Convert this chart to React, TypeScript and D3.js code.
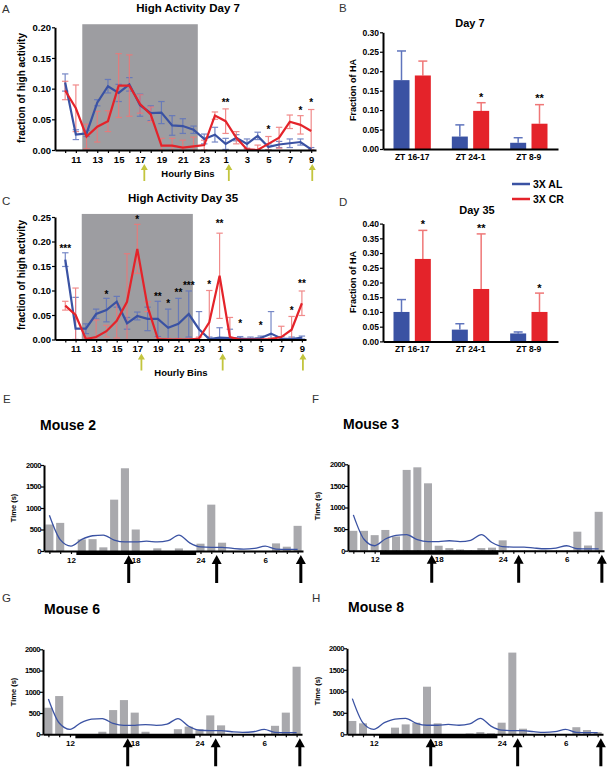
import React, { useRef, useEffect } from 'react'
import * as d3 from 'd3'

// hourly bins (ZT), first bin 10, wraps after 24
const hourBins = [10, 11, 12, 13, 14, 15, 16, 17, 18, 19, 20, 21, 22, 23, 24, 1, 2, 3, 4, 5, 6, 7, 8, 9]
const hourTickLabels = [11, 13, 15, 17, 19, 21, 23, 1, 3, 5, 7, 9]
const lightsOffBins = [1.6, 12.4]
const zeitArrowBins = [7.4, 15.3, 23.1]

// Day 7, fraction of high activity
const alDay7 = [0.11, 0.025, 0.027, 0.077, 0.104, 0.093, 0.107, 0.073, 0.06, 0.061, 0.04, 0.039, 0.033, 0.018, 0.025, 0.01, 0.02, 0.01, 0.023, 0.005, 0.009, 0.011, 0.013, 0.001]
const alDay7Sem = [0.014, 0.008, 0.005, 0.005, 0.011, 0.014, 0.011, 0.018, 0.012, 0.018, 0.016, 0.012, 0.006, 0.008, 0.012, 0.009, 0.005, 0.008, 0.006, 0.005, 0.005, 0.007, 0.005, 0.003]
const crDay7 = [0.097, 0.068, 0.022, 0.038, 0.047, 0.105, 0.105, 0.075, 0.058, 0.007, 0.007, 0.004, 0.006, 0.008, 0.056, 0.047, 0.02, 0.001, 0.0, 0.01, 0.02, 0.046, 0.041, 0.031]
const crDay7Sem = [0.015, 0.038, 0.02, 0.025, 0.017, 0.052, 0.05, 0.015, 0.012, 0.012, 0.012, 0.012, 0.015, 0.008, 0.006, 0.02, 0.01, 0.002, 0.008, 0.012, 0.017, 0.011, 0.015, 0.035]
const starsDay7: [number, number, string][] = [[15, 0.08, '**'], [19, 0.036, '*'], [22, 0.067, '*'], [23, 0.08, '*']]

// Day 35
const alDay35 = [0.163, 0.022, 0.022, 0.052, 0.06, 0.077, 0.033, 0.048, 0.042, 0.042, 0.024, 0.032, 0.052, 0.021, 0.001, 0.004, 0.003, 0.002, 0.001, 0.003, 0.012, 0.002, 0.001, 0.004]
const alDay35Sem = [0.014, 0.064, 0.01, 0.01, 0.024, 0.011, 0.012, 0.008, 0.024, 0.036, 0.038, 0.052, 0.047, 0.036, 0.004, 0.02, 0.018, 0.004, 0.004, 0.004, 0.045, 0.004, 0.004, 0.003]
const crDay35 = [0.069, 0.05, 0.001, 0.005, 0.017, 0.038, 0.077, 0.185, 0.067, 0.001, 0.0, 0.0, 0.0, 0.002, 0.035, 0.13, 0.005, 0.0, 0.0, 0.0, 0.001, 0.005, 0.02, 0.074]
const crDay35Sem = [0.009, 0.055, 0.004, 0.035, 0.012, 0.035, 0.098, 0.05, 0.01, 0.003, 0.002, 0.002, 0.002, 0.003, 0.065, 0.087, 0.04, 0.002, 0.002, 0.002, 0.002, 0.022, 0.027, 0.025]
const starsDay35: [number, number, string][] = [[0, 0.19, '***'], [4, 0.095, '*'], [7, 0.25, '*'], [9, 0.092, '**'], [10, 0.077, '*'], [11, 0.1, '**'], [12, 0.115, '***'], [14, 0.117, '*'], [15, 0.24, '**'], [17, 0.036, '*'], [19, 0.033, '*'], [22, 0.064, '*'], [23, 0.118, '**']]

// fraction of HA in the three windows
const ztGroups = ['ZT 16-17', 'ZT 24-1', 'ZT 8-9']
const groupNames = ['3X AL', '3X CR']
const alHA7 = [0.177, 0.032, 0.016]
const alHA7Sem = [0.075, 0.03, 0.013]
const crHA7 = [0.189, 0.098, 0.065]
const crHA7Sem = [0.037, 0.021, 0.049]
const starsHA7: [number, number, string][] = [[1, 0.138, '*'], [2, 0.134, '**']]
const alHA35 = [0.1, 0.04, 0.027]
const alHA35Sem = [0.042, 0.02, 0.005]
const crHA35 = [0.28, 0.178, 0.1]
const crHA35Sem = [0.097, 0.187, 0.064]
const starsHA35: [number, number, string][] = [[0, 0.403, '*'], [1, 0.39, '**'], [2, 0.187, '*']]

// individual CR mice, time in high activity (s), with AL mean line
const mouseHours = [10, 11, 12, 13, 14, 15, 16, 17, 18, 19, 20, 21, 22, 23, 24, 25, 26, 27, 28, 29, 30, 31, 32, 33]
const mouseTickLabels: Record<number, string> = { 12: '12', 18: '18', 24: '24', 30: '6' }
const darkPhase = [2.5, 13.6]
const mouseArrowBins = [7.35, 15.5, 23.3]
const mouse2 = [616, 654, 0, 270, 275, 85, 1194, 1924, 500, 0, 62, 0, 60, 0, 170, 1078, 193, 0, 0, 0, 0, 177, 100, 585]
const mouse3 = [460, 460, 360, 480, 330, 1870, 1930, 1560, 115, 60, 30, 0, 60, 70, 240, 0, 0, 0, 0, 0, 0, 440, 120, 900]
const mouse6 = [625, 900, 0, 0, 0, 60, 570, 805, 510, 60, 0, 0, 120, 180, 120, 445, 210, 0, 0, 0, 0, 200, 510, 1590]
const mouse8 = [310, 255, 0, 0, 155, 230, 270, 1107, 255, 0, 0, 20, 50, 25, 270, 1900, 130, 0, 0, 0, 0, 165, 100, 50]
const alMeanTime = [830, 265, 115, 270, 355, 370, 255, 210, 210, 230, 210, 240, 370, 190, 95, 85, 85, 60, 45, 60, 115, 45, 40, 40]

const FONT = '"Liberation Sans", Arial, Helvetica, sans-serif'
const BLUE = '#3a52a3'
const RED = '#e4232a'
const BLUE_ERR = '#5f74bd'
const RED_ERR = '#ef7777'
const SHADE = '#9d9da1'
const BAR_GREY = '#a9a9ad'
const ARROW_YELLOW = '#c3c53e'

type Sel = d3.Selection<any, any, any, any>

const styleAxis = (sel: Sel, fontSize: number) => {
  sel.select('.domain').attr('stroke', '#000').attr('stroke-width', 2)
  sel.selectAll('.tick line').attr('stroke', '#000').attr('stroke-width', 1.2)
  sel
    .selectAll('.tick text')
    .attr('font-family', FONT)
    .attr('font-weight', 'bold')
    .attr('font-size', fontSize)
    .attr('fill', '#000')
}

const text = (g: Sel, x: number, y: number, s: string, size: number, opts: any = {}) => {
  const t = g
    .append('text')
    .attr('x', x)
    .attr('y', y)
    .attr('font-family', FONT)
    .attr('font-size', size)
    .attr('font-weight', opts.weight || 'bold')
    .attr('fill', opts.fill || '#000')
    .attr('text-anchor', opts.anchor || 'middle')
    .text(s)
  if (opts.rotate) t.attr('transform', `rotate(-90, ${x}, ${y})`)
  return t
}

const upArrow = (g: Sel, cx: number, tipY: number, tailY: number, hw: number, hh: number, sw: number, color: string) => {
  const p = d3.path()
  p.moveTo(cx, tipY)
  p.lineTo(cx + hw / 2, tipY + hh)
  p.lineTo(cx + sw / 2, tipY + hh)
  p.lineTo(cx + sw / 2, tailY)
  p.lineTo(cx - sw / 2, tailY)
  p.lineTo(cx - sw / 2, tipY + hh)
  p.lineTo(cx - hw / 2, tipY + hh)
  p.closePath()
  g.append('path').attr('d', p.toString()).attr('fill', color)
}

const linePanel = (svg: Sel, cfg: any) => {
  const g = svg.append('g')
  const x = d3.scaleLinear().domain(cfg.xDomain).range(cfg.xRange)
  const y = d3.scaleLinear().domain([0, cfg.yMax]).range(cfg.yRange)
  const idx = d3.range(hourBins.length)

  g.append('rect')
    .attr('x', x(lightsOffBins[0]))
    .attr('width', x(lightsOffBins[1]) - x(lightsOffBins[0]))
    .attr('y', y(cfg.yMax * 1.025))
    .attr('height', y(0) - y(cfg.yMax * 1.025))
    .attr('fill', SHADE)

  const series = [
    { v: cfg.al, e: cfg.alSem, c: BLUE, ec: BLUE_ERR },
    { v: cfg.cr, e: cfg.crSem, c: RED, ec: RED_ERR },
  ]
  series.forEach(s => {
    const eg = g.append('g').attr('stroke', s.ec).attr('stroke-width', 1.2).attr('opacity', 0.85)
    idx.forEach(i => {
      const lo = Math.max(0, s.v[i] - s.e[i])
      const hi = s.v[i] + s.e[i]
      const cx = x(i)
      eg.append('line').attr('x1', cx).attr('x2', cx).attr('y1', y(lo)).attr('y2', y(hi))
      eg.append('line').attr('x1', cx - 3.2).attr('x2', cx + 3.2).attr('y1', y(hi)).attr('y2', y(hi))
      eg.append('line').attr('x1', cx - 3.2).attr('x2', cx + 3.2).attr('y1', y(lo)).attr('y2', y(lo))
    })
  })
  series.forEach(s => {
    const line = d3
      .line<number>()
      .x((_, i) => x(i))
      .y(d => y(d))
    g.append('path').attr('d', line(s.v)).attr('fill', 'none').attr('stroke', s.c).attr('stroke-width', 2.2)
  })

  const yAxis = g
    .append('g')
    .attr('transform', `translate(${cfg.xRange[0]},0)`)
    .call(
      d3
        .axisLeft(y)
        .tickValues(d3.range(0, cfg.yMax + 1e-9, 0.05))
        .tickFormat(d3.format('.2f'))
        .tickSize(3)
        .tickSizeOuter(0)
        .tickPadding(1)
    )
  styleAxis(yAxis, 9.5)

  const xAxis = g
    .append('g')
    .attr('transform', `translate(0,${cfg.yRange[0]})`)
    .call(
      d3
        .axisBottom(x)
        .tickValues(idx)
        .tickFormat((i: any) => (hourTickLabels.includes(hourBins[i]) ? String(hourBins[i]) : ''))
        .tickSize(3)
        .tickSizeOuter(0)
    )
  styleAxis(xAxis, 9.5)

  cfg.stars.forEach(([i, v, s]: [number, number, string]) => text(g, x(i), y(v) + 5.5, s, 10))

  zeitArrowBins.forEach(b => upArrow(g, x(b), cfg.yRange[0] + 14, cfg.yRange[0] + 31, 7, 6, 1.8, ARROW_YELLOW))

  text(g, cfg.titleX, cfg.titleY, cfg.title, 11.5)
  text(g, cfg.ylabX, cfg.ylabY, 'fraction of high activity', 10, { rotate: true })
  text(g, cfg.binsX, cfg.binsY, 'Hourly Bins', 9.5)
}

const barPanel = (svg: Sel, cfg: any) => {
  const g = svg.append('g')
  const x0 = d3.scaleBand().domain(ztGroups).range([383, 558]).paddingInner(0.36).paddingOuter(0.18)
  const x1 = d3.scaleBand().domain(groupNames).range([0, x0.bandwidth()]).paddingInner(0.25)
  const y = d3.scaleLinear().domain([0, cfg.yMax]).range(cfg.yRange)
  const series = [
    { name: groupNames[0], v: cfg.al, e: cfg.alSem, c: BLUE, ec: BLUE_ERR },
    { name: groupNames[1], v: cfg.cr, e: cfg.crSem, c: RED, ec: RED_ERR },
  ]
  series.forEach(s => {
    ztGroups.forEach((grp, i) => {
      const bx = (x0(grp) as number) + (x1(s.name) as number)
      const cx = bx + x1.bandwidth() / 2
      g.append('line')
        .attr('x1', cx)
        .attr('x2', cx)
        .attr('y1', y(s.v[i]))
        .attr('y2', y(s.v[i] + s.e[i]))
        .attr('stroke', s.ec)
        .attr('stroke-width', 1.5)
      g.append('line')
        .attr('x1', cx - 4.5)
        .attr('x2', cx + 4.5)
        .attr('y1', y(s.v[i] + s.e[i]))
        .attr('y2', y(s.v[i] + s.e[i]))
        .attr('stroke', s.ec)
        .attr('stroke-width', 1.5)
      g.append('rect')
        .attr('x', bx)
        .attr('width', x1.bandwidth())
        .attr('y', y(s.v[i]))
        .attr('height', y(0) - y(s.v[i]))
        .attr('fill', s.c)
    })
  })

  const yAxis = g
    .append('g')
    .attr('transform', `translate(383,0)`)
    .call(
      d3
        .axisLeft(y)
        .tickValues(d3.range(0, cfg.yMax + 1e-9, 0.05))
        .tickFormat(d3.format('.2f'))
        .tickSize(3)
        .tickSizeOuter(0)
        .tickPadding(1)
    )
  styleAxis(yAxis, 8.5)
  const xAxis = g
    .append('g')
    .attr('transform', `translate(0,${cfg.yRange[0]})`)
    .call(d3.axisBottom(x0).tickSize(0).tickSizeOuter(0).tickPadding(5))
  styleAxis(xAxis, 8.5)

  cfg.stars.forEach(([i, v, s]: [number, number, string]) => {
    const cx = (x0(ztGroups[i]) as number) + (x1(groupNames[1]) as number) + x1.bandwidth() / 2
    text(g, cx, y(v) + 5.5, s, 11)
  })
  text(g, cfg.titleX, cfg.titleY, cfg.title, 11)
  text(g, 356, cfg.ylabY, 'Fraction of HA', 9, { rotate: true })
}

const mousePanel = (svg: Sel, cfg: any) => {
  const g = svg.append('g')
  const xb = d3.scaleBand<number>().domain(d3.range(mouseHours.length)).range(cfg.xRange).paddingInner(0.25).paddingOuter(0.125)
  const xl = d3.scaleLinear().domain([-0.5, mouseHours.length - 0.5]).range(cfg.xRange)
  const y = d3.scaleLinear().domain([0, 2000]).range(cfg.yRange)

  g.selectAll('rect.bar')
    .data(cfg.values)
    .enter()
    .append('rect')
    .attr('x', (_: any, i: number) => xb(i) as number)
    .attr('width', xb.bandwidth())
    .attr('y', (d: number) => y(d))
    .attr('height', (d: number) => y(0) - y(d))
    .attr('fill', BAR_GREY)

  const line = d3
    .line<number>()
    .x((_, i) => xl(i))
    .y(d => y(d))
    .curve(d3.curveMonotoneX)
  g.append('path').attr('d', line(alMeanTime)).attr('fill', 'none').attr('stroke', BLUE).attr('stroke-width', 1.3)

  const yAxis = g
    .append('g')
    .attr('transform', `translate(${cfg.xRange[0]},0)`)
    .call(
      d3
        .axisLeft(y)
        .tickValues([0, 500, 1000, 1500, 2000])
        .tickFormat(d3.format('d'))
        .tickSize(3)
        .tickSizeOuter(0)
        .tickPadding(0)
    )
  styleAxis(yAxis, 7.5)
  yAxis.selectAll('.tick text').attr('letter-spacing', -0.4)

  const xAxis = g
    .append('g')
    .attr('transform', `translate(0,${cfg.yRange[0]})`)
    .call(
      d3
        .axisBottom(xl)
        .tickValues(d3.range(mouseHours.length))
        .tickFormat((i: any) => mouseTickLabels[mouseHours[i]] || '')
        .tickSize(3)
        .tickSizeOuter(0)
    )
  styleAxis(xAxis, 8)

  g.append('rect')
    .attr('x', xl(darkPhase[0]))
    .attr('width', xl(darkPhase[1]) - xl(darkPhase[0]))
    .attr('y', cfg.yRange[0])
    .attr('height', 4)
    .attr('fill', '#000')

  mouseArrowBins.forEach(b => upArrow(g, xl(b), cfg.yRange[0] + 4, cfg.yRange[0] + 32, 10, 9, 3, '#000'))

  text(g, cfg.titleX, cfg.titleY, cfg.title, 14, { anchor: 'start' })
  text(g, cfg.ylabX, cfg.ylabY, 'Time (s)', 7.5, { rotate: true })
}

const drawAll = (svg: Sel) => {
  const letters: [string, number, number][] = [
    ['A', 2, 13], ['B', 339, 12], ['C', 2, 205], ['D', 339, 206],
    ['E', 3, 403], ['F', 312, 403], ['G', 2, 602], ['H', 312, 602],
  ]
  letters.forEach(([l, x, y]) => text(svg, x, y, l, 11.5, { weight: 'normal', anchor: 'start', fill: '#333' }))

  linePanel(svg, {
    xDomain: [-0.95, 23.45], xRange: [55, 316], yMax: 0.2, yRange: [150, 27.3],
    al: alDay7, alSem: alDay7Sem, cr: crDay7, crSem: crDay7Sem, stars: starsDay7,
    title: 'High Activity Day 7', titleX: 188, titleY: 12,
    ylabX: 25, ylabY: 88, binsX: 188, binsY: 177,
  })
  linePanel(svg, {
    xDomain: [-1.0, 23.4], xRange: [55, 306], yMax: 0.25, yRange: [339.5, 217],
    al: alDay35, alSem: alDay35Sem, cr: crDay35, crSem: crDay35Sem, stars: starsDay35,
    title: 'High Activity Day 35', titleX: 183, titleY: 202,
    ylabX: 25, ylabY: 275, binsX: 181, binsY: 376,
  })

  barPanel(svg, {
    yMax: 0.3, yRange: [149, 32.3], al: alHA7, alSem: alHA7Sem, cr: crHA7, crSem: crHA7Sem,
    stars: starsHA7, title: 'Day 7', titleX: 470, titleY: 27, ylabY: 90,
  })
  barPanel(svg, {
    yMax: 0.4, yRange: [341.4, 223.6], al: alHA35, alSem: alHA35Sem, cr: crHA35, crSem: crHA35Sem,
    stars: starsHA35, title: 'Day 35', titleX: 477, titleY: 214, ylabY: 282,
  })

  // legend
  const lg = svg.append('g')
  ;[BLUE, RED].forEach((c, i) => {
    lg.append('line').attr('x1', 512).attr('x2', 530).attr('y1', 184 + i * 15).attr('y2', 184 + i * 15).attr('stroke', c).attr('stroke-width', 2.5)
    text(lg, 533, 188 + i * 15, groupNames[i], 10.5, { anchor: 'start' })
  })

  mousePanel(svg, { values: mouse2, xRange: [44, 303], yRange: [551, 465], title: 'Mouse 2', titleX: 40, titleY: 430, ylabX: 16, ylabY: 508 })
  mousePanel(svg, { values: mouse3, xRange: [348, 604], yRange: [550.7, 464.3], title: 'Mouse 3', titleX: 343, titleY: 429, ylabX: 320, ylabY: 506 })
  mousePanel(svg, { values: mouse6, xRange: [43, 302], yRange: [734.3, 649.3], title: 'Mouse 6', titleX: 44, titleY: 614, ylabX: 16, ylabY: 692 })
  mousePanel(svg, { values: mouse8, xRange: [347, 603], yRange: [734.3, 648.3], title: 'Mouse 8', titleX: 348, titleY: 612, ylabX: 320, ylabY: 691 })
}

export default function App() {
  const ref = useRef<SVGSVGElement>(null)

  useEffect(() => {
    const svg = d3.select(ref.current)
    svg.selectAll('*').remove()
    drawAll(svg)
  }, [])

  return (
    <svg
      ref={ref}
      width={611}
      height={768}
      style={{ position: 'absolute', left: 0, top: 0, background: '#fff' }}
    />
  )
}
